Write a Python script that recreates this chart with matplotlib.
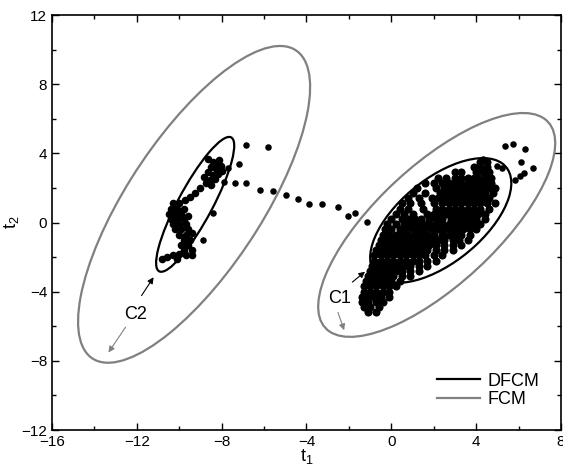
import matplotlib
matplotlib.use('Agg')
import matplotlib.pyplot as plt
from matplotlib.patches import Ellipse
from matplotlib.ticker import MultipleLocator

plt.rcParams['font.family'] = ['Liberation Sans', 'DejaVu Sans']
plt.rcParams['mathtext.default'] = 'regular'

# cluster C2 (left) points
c2_x = [-8.64, -8.41, -8.17, -8.12, -8.03, -8.26, -8.50, -7.98, -8.17, -8.41, -8.64, -8.31,
        -8.55, -8.74, -8.83, -8.50, -8.30, -8.20,
        -9.02, -9.25, -9.49, -9.73,
        -10.3, -10.0, -10.4, -10.1, -9.8, -10.5, -10.2, -9.9, -9.6, -10.4, -10.1, -9.8,
        -10.3, -10.0, -9.7, -10.2, -9.9, -9.6, -9.4, -10.0, -9.7, -9.8, -9.5, -9.9, -9.6,
        -9.4, -9.8, -10.0, -10.3, -10.6, -10.8, -9.7, -9.4, -10.1]
c2_y = [3.68, 3.50, 3.45, 3.62, 3.27, 3.16, 3.21, 2.98, 2.81, 2.75, 2.92, 2.52,
        2.46, 2.29, 2.64, 2.17, 3.30, 3.00,
        2.00, 1.71, 1.48, 1.31,
        1.1, 1.1, 0.8, 0.8, 0.8, 0.5, 0.5, 0.5, 0.4, 0.2, 0.2, 0.2,
        -0.1, -0.1, -0.1, -0.4, -0.4, -0.4, -0.6, -0.7, -0.7, -1.0, -1.0, -1.3, -1.3,
        -1.6, -1.6, -1.8, -1.9, -2.0, -2.1, -1.9, -1.9, -2.1]

# points between the clusters and stragglers
mid_x = [-6.86, -5.80, -7.17, -7.37, -6.86, -6.19, -5.59, -4.98, -4.41, -3.90, -3.25,
         -2.50, -2.05, -1.71, -1.16, -7.71, -7.89, -8.39, -8.86]
mid_y = [4.49, 4.39, 3.39, 2.27, 2.27, 1.88, 1.84, 1.60, 1.35, 1.08, 1.08,
         0.92, 0.38, 0.54, 0.05, 3.14, 2.36, 0.57, -1.00]

out_x = [5.37, 5.76, 6.31, 6.11, 6.67, 4.98, 5.24, 6.26, 6.08, 5.84, 4.30]
out_y = [4.45, 4.53, 4.24, 3.52, 3.14, 3.27, 3.17, 2.85, 2.69, 2.46, 3.68]

# cluster C1 (right), read row by row: (t2, [t1 values])
c1_rows = [
    (3.5, [4.2, 4.5]),
    (3.2, [3.9, 4.2, 4.5]),
    (2.9, [3.0, 3.3, 4.0, 4.3, 4.6]),
    (2.6, [2.2, 2.6, 3.0, 3.3, 3.6, 3.9, 4.1, 4.4, 4.7]),
    (2.3, [1.6, 2.0, 2.4, 2.7, 3.0, 3.3, 3.6, 3.9, 4.2, 4.4, 4.7]),
    (2.0, [1.2, 2.1, 2.5, 2.8, 3.1, 3.4, 3.7, 4.0, 4.3, 4.6, 4.9]),
    (1.7, [1.0, 1.6, 2.3, 2.6, 2.9, 3.2, 3.5, 3.8, 4.1, 4.4, 4.8]),
    (1.4, [0.8, 1.3, 1.9, 2.2, 2.5, 2.8, 3.1, 3.4, 3.7, 4.0, 4.3, 4.6]),
    (1.1, [0.5, 0.9, 1.4, 2.0, 2.4, 2.7, 3.0, 3.3, 3.6, 3.9, 4.2, 4.5, 4.9]),
    (0.8, [0.4, 0.8, 1.5, 2.1, 2.4, 2.7, 3.0, 3.3, 3.6, 3.9, 4.2, 4.6]),
    (0.5, [0.2, 0.6, 1.0, 1.7, 2.0, 2.3, 2.6, 2.9, 3.2, 3.5, 3.8, 4.1, 4.4]),
    (0.2, [0.0, 0.5, 0.8, 1.1, 1.4, 1.8, 2.1, 2.4, 2.8, 3.1, 3.4, 3.7, 4.0, 4.4]),
    (-0.1, [-0.2, 0.2, 0.6, 0.9, 1.2, 1.5, 1.8, 2.1, 2.4, 2.7, 3.0, 3.3, 3.6, 3.9, 4.2]),
    (-0.4, [-0.3, 0.0, 0.4, 0.7, 1.0, 1.3, 1.6, 1.9, 2.2, 2.5, 2.8, 3.1, 3.4, 3.7, 4.0]),
    (-0.7, [-0.4, -0.1, 0.2, 0.5, 0.8, 1.1, 1.4, 1.7, 2.0, 2.4, 2.7, 3.0, 3.3, 3.7]),
    (-1.0, [-0.5, -0.2, 0.1, 0.4, 0.7, 1.0, 1.3, 1.6, 1.9, 2.2, 2.5, 2.9, 3.2, 3.6]),
    (-1.3, [-0.6, -0.3, 0.0, 0.3, 0.6, 0.9, 1.2, 1.5, 1.8, 2.1, 2.5, 2.9, 3.3]),
    (-1.6, [-0.7, -0.4, -0.1, 0.2, 0.5, 0.8, 1.1, 1.4, 1.7, 2.1, 2.5, 2.9]),
    (-1.9, [-0.8, -0.5, -0.2, 0.1, 0.4, 0.7, 1.0, 1.3, 1.6, 2.0, 2.4]),
    (-2.2, [-0.8, -0.5, -0.2, 0.1, 0.4, 0.7, 1.0, 1.3, 1.7, 2.1]),
    (-2.5, [-0.9, -0.6, -0.3, 0.0, 0.3, 0.6, 0.9, 1.3, 1.7]),
    (-2.8, [-1.0, -0.7, -0.4, -0.1, 0.2, 0.5, 0.9, 1.3]),
    (-3.1, [-1.1, -0.8, -0.5, -0.2, 0.1, 0.5, 0.9]),
    (-3.4, [-1.2, -0.9, -0.6, -0.3, 0.0, 0.4]),
    (-3.7, [-1.3, -1.0, -0.7, -0.4, -0.1, 0.2]),
    (-4.0, [-1.3, -1.0, -0.7, -0.4, -0.1]),
    (-4.3, [-1.4, -1.1, -0.8, -0.5, -0.1]),
    (-4.6, [-1.4, -1.1, -0.7, -0.4]),
    (-4.9, [-1.3, -1.0, -0.6]),
    (-5.2, [-1.1, -0.7]),
]

# ellipses: center x, center y, semi-major, semi-minor, angle (deg)
dfcm_ell = [(2.33, 0.12, 4.39, 2.19, 48.8), (-9.25, 1.05, 4.23, 0.84, 66.7)]
fcm_ell = [(2.14, -0.14, 7.97, 3.10, 50.7), (-9.30, 1.05, 10.14, 3.32, 63.0)]

c1_x = [x for y, xs in c1_rows for x in xs]
c1_y = [y for y, xs in c1_rows for x in xs]

fig = plt.figure(figsize=(5.63, 4.75), dpi=100)
ax = fig.add_axes([0.0924, 0.0947, 0.904, 0.8737])

ax.scatter(c1_x, c1_y, s=34, c='black', linewidths=0, zorder=3)
ax.scatter(c2_x, c2_y, s=30, c='black', linewidths=0, zorder=3)
ax.scatter(mid_x, mid_y, s=22, c='black', linewidths=0, zorder=3)
ax.scatter(out_x, out_y, s=22, c='black', linewidths=0, zorder=3)

for cx, cy, a, b, ang in dfcm_ell:
    ax.add_patch(Ellipse((cx, cy), 2 * a, 2 * b, angle=ang, fill=False,
                         ec='black', lw=1.6, zorder=4))
for cx, cy, a, b, ang in fcm_ell:
    ax.add_patch(Ellipse((cx, cy), 2 * a, 2 * b, angle=ang, fill=False,
                         ec='#808080', lw=1.6, zorder=2))

ax.plot([], [], color='black', lw=1.6, label='DFCM')
ax.plot([], [], color='#808080', lw=1.6, label='FCM')
ax.legend(loc='lower right', frameon=False, fontsize=13, handlelength=2.4,
          handletextpad=0.4, borderaxespad=0.8, labelspacing=0.1)

# labels and arrows
ax.text(-12.04, -5.3, 'C2', fontsize=13, ha='center', va='center')
ax.annotate('', xy=(-11.14, -3.03), xytext=(-11.85, -4.36),
            arrowprops=dict(arrowstyle='-|>', color='black', lw=0.8, mutation_scale=9))
ax.annotate('', xy=(-13.41, -7.65), xytext=(-12.46, -5.92),
            arrowprops=dict(arrowstyle='-|>', color='#808080', lw=0.8, mutation_scale=9))

ax.text(-2.46, -4.4, 'C1', fontsize=13, ha='center', va='center')
ax.annotate('', xy=(-1.14, -2.74), xytext=(-1.94, -3.55),
            arrowprops=dict(arrowstyle='-|>', color='black', lw=0.8, mutation_scale=9))
ax.annotate('', xy=(-2.18, -6.38), xytext=(-2.56, -5.05),
            arrowprops=dict(arrowstyle='-|>', color='#808080', lw=0.8, mutation_scale=9))

ax.set_xlim(-16, 8)
ax.set_ylim(-12, 12)
ax.xaxis.set_major_locator(MultipleLocator(4))
ax.xaxis.set_minor_locator(MultipleLocator(2))
ax.yaxis.set_major_locator(MultipleLocator(4))
ax.yaxis.set_minor_locator(MultipleLocator(2))
ax.tick_params(which='both', direction='in', top=True, right=True, labelsize=11)
ax.tick_params(which='major', length=5, width=1)
ax.tick_params(which='minor', length=3, width=1)
for sp in ax.spines.values():
    sp.set_linewidth(1.2)

ax.set_xlabel('t$_1$', fontsize=13, labelpad=-1)
ax.set_ylabel('t$_2$', fontsize=13, labelpad=0)

fig.savefig('out.png', dpi=100)
